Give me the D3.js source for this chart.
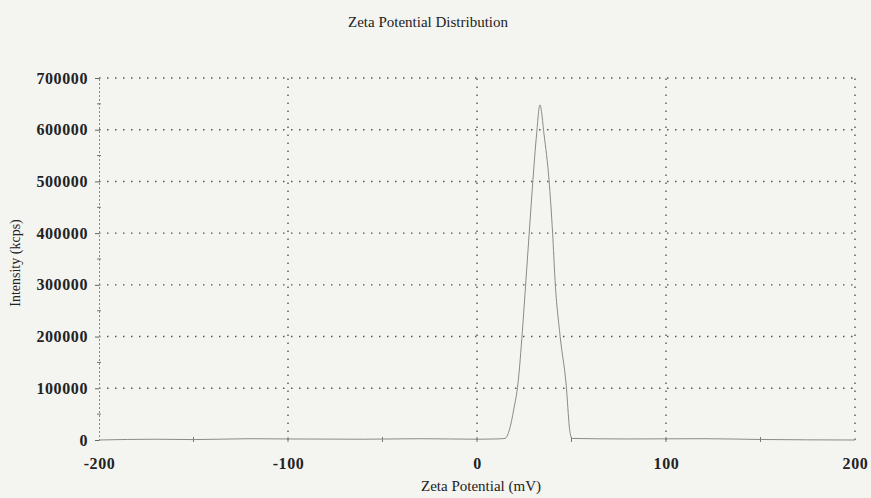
<!DOCTYPE html>
<html>
<head>
<meta charset="utf-8">
<script src="https://cdn.jsdelivr.net/npm/d3@7"></script>
<style>
  body { margin: 0; background: #f4f4f1; }
  svg { display: block; }
</style>
</head>
<body>
<div id="chart"></div>
<script>
// values
const zetaMV = [-200, -170, -150, -120, -100, -60, -30, 0, 10, 14.8, 17, 19.5, 21.7, 24, 25.9, 28, 29.6, 31.5, 33.3, 35.5, 38.1, 40, 41.3, 44, 47.1, 49.2, 50.3, 80, 120, 150, 200];
const intensity = [0, 1500, 800, 2500, 2000, 1500, 2500, 1500, 2000, 3000, 18000, 60000, 110000, 210000, 309000, 420000, 503000, 590000, 648000, 590000, 503000, 400000, 309000, 200000, 110000, 15000, 3000, 2000, 2500, 1000, 0];
const xTicks = [-200, -100, 0, 100, 200];
const yTicks = [0, 100000, 200000, 300000, 400000, 500000, 600000, 700000];

const width = 871, height = 498;
const margin = { top: 78, right: 16, bottom: 58, left: 99 };

const svg = d3.select('#chart').append('svg')
  .attr('width', width)
  .attr('height', height)
  .style('font-family', '"Liberation Serif", "Times New Roman", serif');

svg.append('rect').attr('width', width).attr('height', height).attr('fill', '#f4f4f1');

const x = d3.scaleLinear().domain([-200, 200]).range([margin.left, width - margin.right]);
const y = d3.scaleLinear().domain([0, 700000]).range([height - margin.bottom, margin.top]);

const dotted = '1.5,6.5';

// horizontal grid lines
svg.append('g').selectAll('line')
  .data(yTicks.filter(d => d > 0))
  .join('line')
  .attr('x1', x(-200)).attr('x2', x(200))
  .attr('y1', d => y(d)).attr('y2', d => y(d))
  .attr('stroke', '#555').attr('stroke-width', 1.4)
  .attr('stroke-dasharray', dotted);

// vertical grid lines
svg.append('g').selectAll('line')
  .data(xTicks.filter(d => d > -200))
  .join('line')
  .attr('x1', d => x(d)).attr('x2', d => x(d))
  .attr('y1', y(0)).attr('y2', y(700000))
  .attr('stroke', '#555').attr('stroke-width', 1.4)
  .attr('stroke-dasharray', dotted);

// y axis
const yAxis = d3.axisLeft(y).tickValues(yTicks).tickSize(4).tickPadding(7).tickFormat(d => String(d));
const gy = svg.append('g').attr('transform', `translate(${x(-200)},0)`).call(yAxis);
gy.select('.domain').attr('stroke', '#888').attr('stroke-dasharray', '2,2');
gy.selectAll('.tick line').attr('stroke', '#666');
gy.selectAll('.tick text')
  .attr('font-size', 16).attr('font-weight', 'bold').attr('letter-spacing', 0.6)
  .attr('font-family', '"Liberation Serif", serif').attr('fill', '#222');

// minor y ticks
svg.append('g').selectAll('line')
  .data(d3.range(50000, 700000, 100000))
  .join('line')
  .attr('x1', x(-200) - 2).attr('x2', x(-200) + 2)
  .attr('y1', d => y(d)).attr('y2', d => y(d))
  .attr('stroke', '#777');

// x axis
const xAxis = d3.axisBottom(x).tickValues(xTicks).tickSize(0).tickPadding(18).tickFormat(d => String(d));
const gx = svg.append('g').attr('transform', `translate(0,${y(0)})`).call(xAxis);
gx.select('.domain').remove();
gx.selectAll('.tick text')
  .attr('font-size', 16).attr('font-weight', 'bold').attr('letter-spacing', 0.6)
  .attr('font-family', '"Liberation Serif", serif').attr('fill', '#222');

// minor x ticks
svg.append('g').selectAll('line')
  .data(d3.range(-150, 200, 50))
  .join('line')
  .attr('x1', d => x(d)).attr('x2', d => x(d))
  .attr('y1', y(0) - 3).attr('y2', y(0) + 2)
  .attr('stroke', '#777');

// data line
const line = d3.line()
  .x((d, i) => x(zetaMV[i]))
  .y(d => y(d))
  .curve(d3.curveMonotoneX);

svg.append('path')
  .datum(intensity)
  .attr('d', line)
  .attr('fill', 'none')
  .attr('stroke', '#8a8a8a')
  .attr('stroke-width', 1);

// title
svg.append('text')
  .attr('x', 428).attr('y', 27)
  .attr('text-anchor', 'middle')
  .attr('font-size', 15).attr('fill', '#222')
  .text('Zeta Potential Distribution');

// x label
svg.append('text')
  .attr('x', 481).attr('y', 491)
  .attr('text-anchor', 'middle')
  .attr('font-size', 15).attr('fill', '#222')
  .text('Zeta Potential (mV)');

// y label
svg.append('text')
  .attr('transform', 'translate(20,263) rotate(-90)')
  .attr('text-anchor', 'middle')
  .attr('font-size', 14).attr('fill', '#222')
  .text('Intensity (kcps)');
</script>
</body>
</html>
